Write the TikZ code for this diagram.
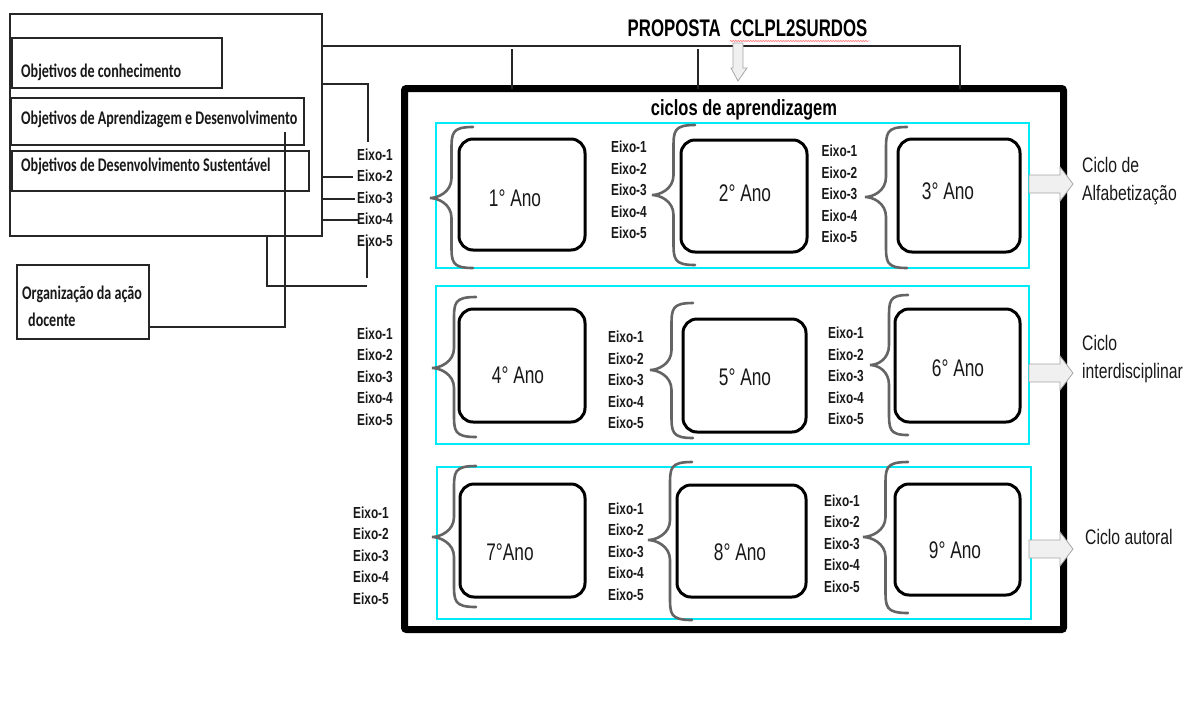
\documentclass[tikz,border=0pt]{standalone}
\usepackage{fontspec}
\setmainfont{Liberation Sans}
\newfontfamily\titlefont{Liberation Sans}[FakeStretch=0.70]
\newfontfamily\eixofont{Liberation Sans}[FakeStretch=0.74]
\newfontfamily\anofont{Liberation Sans}[FakeStretch=0.72]
\newfontfamily\cicfont{Liberation Sans}[FakeStretch=0.75]
\newfontfamily\calfont{Carlito}[FakeStretch=0.73]
\usetikzlibrary{decorations.pathmorphing}
\definecolor{cyanline}{RGB}{0,235,245}
\definecolor{bracegray}{RGB}{100,100,100}
\tikzset{
 boxline/.style={draw=black!85, line width=1.3pt, inner sep=0pt, outer sep=0pt},
 anobox/.style={draw=black, line width=3pt, rounded corners=14pt, inner sep=0pt, outer sep=0pt},
 rowbox/.style={draw=cyanline, line width=1.6pt, inner sep=0pt, outer sep=0pt},
 conn/.style={draw=black!85, line width=1.1pt},
 brc/.style={draw=bracegray, line width=2.6pt, line cap=round},
 eixo/.style={font=\eixofont\bfseries\fontsize{16}{21.5}\selectfont, align=left, inner sep=0pt, text=black!90},
 anotext/.style={font=\anofont\fontsize{24}{28}\selectfont, inner sep=0pt, text=black!90},
 caltext/.style={font=\calfont\bfseries\fontsize{19.3}{23}\selectfont, inner sep=0pt, anchor=base west, text=black!90},
 cictext/.style={font=\cicfont\fontsize{21}{28}\selectfont, inner sep=0pt, align=left, anchor=west, text=black!90},
 blk/.style={draw=gray!70, fill=gray!12, line width=0.8pt, line join=miter},
}
\newcommand\curlybr[5]{% tipx, tipy, endx, topy, boty
 \draw[brc] (#3,#4) .. controls ({(#1+#3)/2},#4) and ({(#1+#3)/2},{#4+6}) .. ({(#1+#3)/2},{#4+24})
  -- ({(#1+#3)/2},{#2-20}) .. controls ({(#1+#3)/2},{#2-6}) and ({#1+8},#2) .. (#1,#2)
  .. controls ({#1+8},#2) and ({(#1+#3)/2},{#2+6}) .. ({(#1+#3)/2},{#2+20})
  -- ({(#1+#3)/2},{#5-24}) .. controls ({(#1+#3)/2},{#5-6}) and ({(#1+#3)/2},#5) .. (#3,#5);}
\begin{document}
\begin{tikzpicture}[x=1pt,y=-1pt]
\useasboundingbox[fill=white] (0,0) rectangle (1186,705);

% title
\node[font=\titlefont\bfseries\fontsize{24}{28}\selectfont, inner sep=0pt] (title) at (747.5,28) {PROPOSTA\ \ CCLPL2SURDOS};
\draw[decorate, decoration={snake, amplitude=0.7pt, segment length=2.5pt}, red!50, line width=0.6pt] (730,41) -- (869,41);

% left boxes
\node[boxline, minimum width=312pt, minimum height=222pt] (obj) at (166,125) {};
\node[boxline, minimum width=210pt, minimum height=50pt] (ok) at (117,63) {};
\node[boxline, minimum width=293pt, minimum height=47pt] (oad) at (157.5,121.5) {};
\node[boxline, minimum width=297pt, minimum height=40pt] (ods) at (160.5,171) {};
\node[caltext] (tok) at (21,77) {Objetivos de conhecimento};
\node[caltext] (toad) at (21,124) {Objetivos de Aprendizagem e Desenvolvimento};
\node[caltext] (tods) at (21,171) {Objetivos de Desenvolvimento Sustentável};

\node[boxline, minimum width=132pt, minimum height=74pt] (org) at (83,302) {};
\draw[line width=2.6pt, black!85] (org.south west) -- ++(98,0);
\node[caltext] (torg1) at (22,299) {Organização da ação};
\node[caltext] (torg2) at (28,326) {docente};

% left eixo stacks
\node[eixo] (L1) at (375,197.5) {Eixo-1\\Eixo-2\\Eixo-3\\Eixo-4\\Eixo-5};
\node[eixo] (L2) at (375,376.5) {Eixo-1\\Eixo-2\\Eixo-3\\Eixo-4\\Eixo-5};
\node[eixo] (L3) at (371,555.5) {Eixo-1\\Eixo-2\\Eixo-3\\Eixo-4\\Eixo-5};

% main frame
\node[draw=black, line width=7pt, rounded corners=2pt, minimum width=659pt, minimum height=541pt, inner sep=0pt, outer sep=0pt] (frame) at (734,359) {};
\node[font=\cicfont\bfseries\fontsize{22}{26}\selectfont, inner sep=0pt] (cic) at (744,110) {ciclos de aprendizagem};

% rows
\node[rowbox, minimum width=593pt, minimum height=145pt] (row1) at (732.5,195.5) {};
\node[rowbox, minimum width=593pt, minimum height=158pt] (row2) at (732.5,365) {};
\node[rowbox, minimum width=594pt, minimum height=152pt] (row3) at (734,543) {};

% braces
\curlybr{430}{198}{473}{127}{268}
\curlybr{652}{195}{695}{125}{265}
\curlybr{865}{197}{907}{127}{268}
\curlybr{432}{368}{476}{297}{437}
\curlybr{650}{370}{693}{303}{438}
\curlybr{870}{365}{908}{295}{435}
\curlybr{432}{537}{476}{466}{607}
\curlybr{648}{540}{692}{462}{620}
\curlybr{863}{537}{908}{462}{613}

% year boxes
\node[anobox, minimum width=126pt, minimum height=111pt] (a1) at (522,194.5) {};
\node[anobox, minimum width=126pt, minimum height=112pt] (a2) at (744,196) {};
\node[anobox, minimum width=122pt, minimum height=113pt] (a3) at (959,195.5) {};
\node[anobox, minimum width=126pt, minimum height=113pt] (a4) at (522,365.5) {};
\node[anobox, minimum width=123pt, minimum height=113pt] (a5) at (744.5,375.5) {};
\node[anobox, minimum width=125pt, minimum height=113pt] (a6) at (957.5,365.5) {};
\node[anobox, minimum width=125pt, minimum height=113pt] (a7) at (522.5,540.5) {};
\node[anobox, minimum width=129pt, minimum height=112pt] (a8) at (741.5,541) {};
\node[anobox, minimum width=125pt, minimum height=111pt] (a9) at (957.5,539.5) {};
\node[anotext] (t1) at (515,198) {1° Ano};
\node[anotext] (t2) at (745,193) {2° Ano};
\node[anotext] (t3) at (948,191) {3° Ano};
\node[anotext] (t4) at (518,375) {4° Ano};
\node[anotext] (t5) at (745,377) {5° Ano};
\node[anotext] (t6) at (958,368) {6° Ano};
\node[anotext] (t7) at (510,552) {7°Ano};
\node[anotext] (t8) at (740,552) {8° Ano};
\node[anotext] (t9) at (955,550) {9° Ano};

% inner eixo stacks
\node[eixo] (E12) at (629,190) {Eixo-1\\Eixo-2\\Eixo-3\\Eixo-4\\Eixo-5};
\node[eixo] (E13) at (839.5,194) {Eixo-1\\Eixo-2\\Eixo-3\\Eixo-4\\Eixo-5};
\node[eixo] (E22) at (626,380) {Eixo-1\\Eixo-2\\Eixo-3\\Eixo-4\\Eixo-5};
\node[eixo] (E23) at (846,376) {Eixo-1\\Eixo-2\\Eixo-3\\Eixo-4\\Eixo-5};
\node[eixo] (E32) at (626,551.5) {Eixo-1\\Eixo-2\\Eixo-3\\Eixo-4\\Eixo-5};
\node[eixo] (E33) at (842,543.5) {Eixo-1\\Eixo-2\\Eixo-3\\Eixo-4\\Eixo-5};

% connectors from the left box
\coordinate (jt) at (960,46);
\coordinate (v1) at (512,49);
\coordinate (v2) at (698,49);
\coordinate (e1t) at (368,142);
\coordinate (k2) at (353,177);
\coordinate (k3) at (355,199);
\coordinate (k4) at (358,220);
\coordinate (m1) at (285,132);
\coordinate (b1) at (267,286);
\coordinate (b2) at (367,286);
\coordinate (e5a) at (367,240);
\coordinate (e5b) at (367,278);
\draw[conn] ([yshift=-32pt]obj.north east) -| (frame.north -| jt);
\draw[conn] (v1) -- (v1 |- frame.north);
\draw[conn] (v2) -- (v2 |- frame.north);
\draw[conn] ([yshift=-70pt]obj.north east) -| (e1t);
\draw[conn] (obj.east |- k2) -- (k2);
\draw[conn] (obj.east |- k3) -- (k3);
\draw[conn] (obj.east |- k4) -- (k4);
\draw[conn] (e5a) -- (e5b);
\draw[conn] (obj.south -| b1) -- (b1) -- (b2);
\draw[conn] (m1) |- ([yshift=-25pt]org.east);

% down arrow under title
\coordinate (da) at (738,43);
\draw[blk] ([xshift=-5pt]da) -- ++(0,25) -- ++(-2,0) -- ++(7,13) -- ++(9,-13) -- ++(-4,0) -- ++(0,-25) -- cycle;

% block arrows to cycle labels
\coordinate (r1) at (1029,184);
\coordinate (r2) at (1029,373);
\coordinate (r3) at (1029,549);
\foreach \r in {r1,r2,r3}{
 \draw[blk] ([yshift=9pt]\r) -- ++(31,0) -- ++(0,-8) -- ++(13,17) -- ++(-13,17) -- ++(0,-8) -- ([yshift=-9pt]\r) -- cycle;
}
\node[cictext] (c1) at (1082,181) {Ciclo de\\Alfabetização};
\node[cictext] (c2) at (1082,359.5) {Ciclo\\interdisciplinar};
\node[cictext] (c3) at (1085,537) {Ciclo autoral};
\end{tikzpicture}
\end{document}
